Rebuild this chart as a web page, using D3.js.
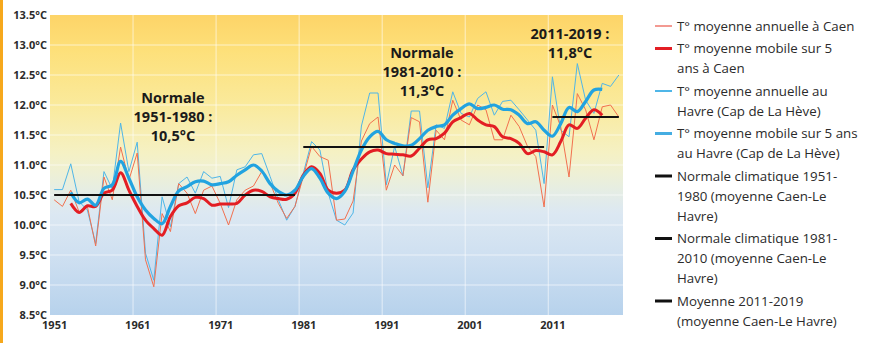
<!DOCTYPE html>
<html>
<head>
<meta charset="utf-8">
<script src="https://cdn.jsdelivr.net/npm/d3@7"></script>
<style>
  body { margin: 0; background: #fff; }
  text { font-family: "Open Sans", sans-serif; }
</style>
</head>
<body>
<div class="chart"></div>
<script>
// years 1951-2019
const years = d3.range(1951, 2020)
const caenAnnual = [10.42,10.31,10.58,10.22,10.31,9.65,10.80,10.42,11.30,10.75,
  11.20,9.42,8.97,10.19,9.89,10.69,10.53,10.19,10.58,10.65,
  10.36,10.00,10.42,10.58,10.65,10.89,10.70,10.36,10.11,10.31,
  10.81,11.31,11.14,11.08,10.08,10.10,10.40,11.40,11.69,11.80,
  10.58,11.00,10.82,11.79,11.72,10.38,11.58,11.42,12.08,11.75,
  11.67,12.00,11.92,11.42,11.42,11.83,11.64,11.31,11.14,10.30,
  12.00,11.64,10.80,12.19,11.92,11.42,11.97,12.00,11.80]
const havreAnnual = [10.59,10.59,11.02,10.39,10.25,9.69,10.89,10.60,11.70,10.89,
  11.38,9.53,9.08,10.47,9.97,10.69,10.80,10.53,10.89,10.78,
  10.81,10.29,10.92,10.97,11.17,11.19,10.81,10.42,10.08,10.31,
  10.86,11.39,11.25,10.53,10.08,10.00,10.20,11.65,12.20,12.20,
  10.67,11.31,10.82,11.90,11.90,10.62,11.67,11.61,12.22,11.86,
  11.80,12.11,12.22,11.83,12.06,12.08,11.92,11.75,11.58,10.69,
  12.47,11.58,11.47,12.69,12.08,11.86,12.36,12.31,12.50]
// 5-year moving averages, 1953-2017
const mobileYears = d3.range(1953, 2018)
const caenMobile = [10.36,10.21,10.32,10.31,10.53,10.58,10.87,10.58,10.31,10.08,
  9.94,9.83,10.14,10.32,10.37,10.46,10.44,10.33,10.35,10.35,
  10.36,10.50,10.58,10.56,10.47,10.44,10.43,10.53,10.83,10.97,
  10.86,10.58,10.53,10.58,10.92,11.10,11.22,11.25,11.19,11.18,
  11.17,11.15,11.28,11.42,11.44,11.53,11.72,11.79,11.86,11.75,
  11.67,11.64,11.47,11.44,11.36,11.19,11.24,11.22,11.17,11.39,
  11.67,11.61,11.78,11.92,11.83]
const havreMobile = [10.54,10.37,10.43,10.33,10.61,10.67,11.06,10.78,10.47,10.25,
  10.11,10.02,10.31,10.57,10.64,10.72,10.73,10.67,10.69,10.72,
  10.83,10.92,11.00,10.90,10.69,10.56,10.50,10.58,10.81,10.94,
  10.78,10.53,10.44,10.56,10.90,11.25,11.47,11.56,11.42,11.36,
  11.32,11.33,11.44,11.58,11.64,11.67,11.83,11.94,12.02,11.94,
  11.96,12.00,11.93,11.92,11.83,11.69,11.72,11.58,11.48,11.69,
  11.96,11.89,12.06,12.25,12.26]
// period means
const periodStart = [1951, 1981, 2011]
const periodEnd = [1980, 2010, 2019]
const periodMean = [10.5, 11.3, 11.8]
const periodLabels = [["Normale", "1951-1980 :", "10,5°C"], ["Normale", "1981-2010 :", "11,3°C"], ["2011-2019 :", "11,8°C"]]
const yTicks = [8.5, 9, 9.5, 10, 10.5, 11, 11.5, 12, 12.5, 13, 13.5]
const xTicks = [1951, 1961, 1971, 1981, 1991, 2001, 2011]
const legendLabels = [
  ["T° moyenne annuelle à Caen"],
  ["T° moyenne mobile sur 5", "ans à Caen"],
  ["T° moyenne annuelle au", "Havre (Cap de La Hève)"],
  ["T° moyenne mobile sur 5 ans", "au Havre (Cap de La Hève)"],
  ["Normale climatique 1951-", "1980 (moyenne Caen-Le", "Havre)"],
  ["Normale climatique 1981-", "2010 (moyenne Caen-Le", "Havre)"],
  ["Moyenne 2011-2019", "(moyenne Caen-Le Havre)"]
]

const thinRed = "#f2704f", thickRed = "#e31e24", thinBlue = "#4fb6e8", thickBlue = "#22a3e0"
const legendColours = ["#f39a92", thickRed, thinBlue, "#45ade2", "#111", "#111", "#111"]
const legendWidths = [2, 3, 2, 3, 3, 3, 3]

const svg = d3.select(".chart").append("svg").attr("width", 887).attr("height", 343)
const plot = {left: 50, right: 623, top: 15, bottom: 315}

const x = d3.scaleLinear().domain([1950.5, 2019.5]).range([plot.left, plot.right])
const y = d3.scaleLinear().domain([8.5, 13.5]).range([plot.bottom, plot.top])

// orange side bar
svg.append("rect").attr("x", 0).attr("y", 0).attr("width", 3).attr("height", 343).attr("fill", "#f6a81c")

// background gradient, yellow on top, blue at the bottom
const grad = svg.append("defs").append("linearGradient").attr("id", "bg")
  .attr("gradientUnits", "userSpaceOnUse").attr("x1", 0).attr("x2", 0).attr("y1", plot.top).attr("y2", plot.bottom)
const stops = [[0, "#fdd468"], [0.12, "#fde07a"], [0.3, "#faea9c"], [0.46, "#f5f1c4"], [0.53, "#eef0d6"],
  [0.59, "#e5ede5"], [0.66, "#dce8f2"], [0.8, "#cfe0f1"], [1, "#b7d2ec"]]
grad.selectAll("stop").data(stops).enter().append("stop").attr("offset", d => d[0]).attr("stop-color", d => d[1])
svg.append("rect").attr("x", plot.left).attr("y", plot.top).attr("width", plot.right - plot.left)
  .attr("height", plot.bottom - plot.top).attr("fill", "url(#bg)")

// grid
svg.append("g").selectAll("line").data(yTicks.slice(1, -1)).enter().append("line")
  .attr("x1", plot.left).attr("x2", plot.right).attr("y1", d => y(d)).attr("y2", d => y(d))
  .attr("stroke", "#fff").attr("stroke-opacity", 0.6)
svg.append("g").selectAll("line").data(xTicks.slice(1).map(d => d - 0.5)).enter().append("line")
  .attr("x1", d => x(d)).attr("x2", d => x(d)).attr("y1", plot.top).attr("y2", plot.bottom)
  .attr("stroke", "#fff").attr("stroke-opacity", 0.6)

// axes
svg.append("g").attr("transform", `translate(${plot.left},0)`)
  .call(d3.axisLeft(y).tickValues(yTicks).tickFormat(d => d.toFixed(1) + "°C").tickSize(0).tickPadding(3))
svg.append("g").attr("transform", `translate(0,${plot.bottom})`)
  .call(d3.axisBottom(x).tickValues(xTicks).tickFormat(d => d).tickSize(0).tickPadding(6))
svg.selectAll(".domain").remove()
svg.selectAll(".tick text").attr("font-family", "\"Open Sans\", sans-serif").attr("font-size", 11)
  .attr("font-weight", "bold").attr("fill", "#2b2b2b")

// data lines
const thinLine = d3.line().x((d, i) => x(years[i])).y(d => y(d))
const smoothLine = d3.line().x((d, i) => x(mobileYears[i])).y(d => y(d)).curve(d3.curveCatmullRom.alpha(0.5))

svg.append("path").attr("d", thinLine(havreAnnual)).attr("fill", "none").attr("stroke", thinBlue).attr("stroke-width", 1)
svg.append("path").attr("d", thinLine(caenAnnual)).attr("fill", "none").attr("stroke", thinRed).attr("stroke-width", 1)
svg.append("path").attr("d", smoothLine(caenMobile)).attr("fill", "none").attr("stroke", thickRed).attr("stroke-width", 3)
svg.append("path").attr("d", smoothLine(havreMobile)).attr("fill", "none").attr("stroke", thickBlue).attr("stroke-width", 3.2)

// period means
svg.append("g").selectAll("line").data(periodMean).enter().append("line")
  .attr("x1", (d, i) => x(periodStart[i])).attr("x2", (d, i) => x(periodEnd[i]))
  .attr("y1", d => y(d)).attr("y2", d => y(d)).attr("stroke", "#111").attr("stroke-width", 2)

// annotations
const annoPos = [[173, 103], [422, 58], [570, 39]]
periodLabels.forEach((lines, i) => {
  const t = svg.append("text").attr("text-anchor", "middle").attr("font-size", 14.5).attr("font-weight", "bold").attr("fill", "#1a1a1a")
  lines.forEach((s, j) => t.append("tspan").attr("x", annoPos[i][0]).attr("y", annoPos[i][1] + j * 19).text(s))
})

// legend
let ly = 26
legendLabels.forEach((lines, i) => {
  const g = svg.append("g").attr("transform", `translate(655,${ly})`)
  g.append("line").attr("x1", 0).attr("x2", 17).attr("y1", 0).attr("y2", 0)
    .attr("stroke", legendColours[i]).attr("stroke-width", legendWidths[i])
  const t = g.append("text").attr("font-size", 13.3).attr("fill", "#2b2b2b")
  lines.forEach((s, j) => t.append("tspan").attr("x", 22).attr("y", j * 20).attr("dy", "0.35em").text(s))
  ly += lines.length * 20 + 2.5
})
</script>
</body>
</html>
